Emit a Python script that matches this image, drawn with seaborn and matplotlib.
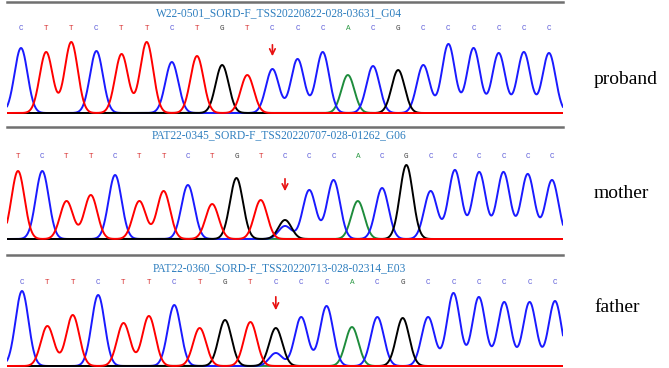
import numpy as np
import pandas as pd
import matplotlib
matplotlib.use("Agg")
import matplotlib.pyplot as plt
import seaborn as sns

# sequencing traces (peak heights in px above baseline)
proband_title = "W22-0501_SORD-F_TSS20220822-028-03631_G04"
proband_bases = list("CTTCTTCTGTCCCACGCCCCCC")
proband_heights = [65, 61, 71, 62, 59, 71, 51, 57, 48, 38, 44, 54, 61, 38, 47, 43, 48, 69, 65, 60, 61, 60]
proband_alt_pos = []
proband_alt_base = []
proband_alt_height = []
proband_arrow = 10

mother_title = "PAT22-0345_SORD-F_TSS20220707-028-01262_G06"
mother_bases = list("TCTTCTTCTGTCCCACGCCCCCC")
mother_heights = [68, 68, 38, 44, 64, 38, 48, 54, 35, 61, 39, 13, 49, 59, 38, 51, 74, 48, 69, 67, 67, 65, 59]
mother_alt_pos = [11]
mother_alt_base = ["G"]
mother_alt_height = [19]
mother_arrow = 11

father_title = "PAT22-0360_SORD-F_TSS20220713-028-02314_E03"
father_bases = list("CTTCTTCTGTCCCACGCCCCCC")
father_heights = [75, 40, 51, 71, 43, 50, 61, 38, 46, 44, 13, 49, 60, 39, 49, 48, 49, 73, 69, 64, 64, 65]
father_alt_pos = [10]
father_alt_base = ["G"]
father_alt_height = [38]
father_arrow = 10

labels = ["proband", "mother", "father"]

trace_colors = {"A": "#1e8c3c", "C": "#1a1aff", "G": "#000000", "T": "#ff0000"}
letter_colors = {"A": "#2e9a46", "C": "#5a5ad8", "G": "#444444", "T": "#d83030"}

sns.set_style("white")

W, H = 669, 368
fig = plt.figure(figsize=(W / 100, H / 100), dpi=100)

# (top px, baseline px, first base px, last base px, title h, letters h, arrow top, arrow head, label y)
layout = [
    (1.5, 113, 21, 549, 100, 84, 71, 54, 79),
    (127, 239, 18, 552, 104, 83, 63, 45, 194),
    (255, 366, 22, 555, 98, 83, 72, 53, 308),
]
panels = [
    (proband_title, proband_bases, proband_heights, proband_alt_pos, proband_alt_base, proband_alt_height, proband_arrow),
    (mother_title, mother_bases, mother_heights, mother_alt_pos, mother_alt_base, mother_alt_height, mother_arrow),
    (father_title, father_bases, father_heights, father_alt_pos, father_alt_base, father_alt_height, father_arrow),
]

left_px, right_px = 7, 563

for (top, base, p0, p1, th, lh, a_top, a_head, lab_y), panel, label in zip(layout, panels, labels):
    title, bases, heights, alt_pos, alt_base, alt_height, arrow_i = panel
    n = len(bases)
    step = (p1 - p0) / (n - 1)
    x0 = (left_px - p0) / step
    x1 = (right_px - p0) / step
    bottom = min(base + 3, H)

    ax = fig.add_axes([left_px / W, 1 - bottom / H, (right_px - left_px) / W, (bottom - top) / H])

    xs = np.linspace(x0, x1, 1600)
    sigma = 6.5 / step
    rows = []
    for ch in ["A", "C", "G", "T"]:
        sig = np.zeros_like(xs)
        for i, (b, h) in enumerate(zip(bases, heights)):
            if b == ch:
                sig += h * np.exp(-((xs - i) ** 2) / (2 * sigma ** 2))
        for i, b, h in zip(alt_pos, alt_base, alt_height):
            if b == ch:
                sig += h * np.exp(-((xs - i) ** 2) / (2 * sigma ** 2))
        rows.append(pd.DataFrame({"x": xs, "signal": sig, "channel": ch}))
    df = pd.concat(rows, ignore_index=True)

    sns.lineplot(data=df, x="x", y="signal", hue="channel", hue_order=["A", "C", "G", "T"],
                 palette=trace_colors, estimator=None, sort=False, legend=False,
                 linewidth=1.4, ax=ax)

    for i, b in enumerate(bases):
        ax.text(i, lh, b, ha="center", va="center", fontsize=5.5,
                family="Liberation Mono", color=letter_colors[b])

    ax.text(0.49, th, title, transform=ax.get_yaxis_transform(), ha="center", va="center",
            fontsize=8.3, family="Liberation Serif", color="#2f7fbf")

    ax.annotate("", xy=(arrow_i, a_head), xytext=(arrow_i, a_top),
                arrowprops=dict(arrowstyle="->", color="#e81010", lw=1.2))

    ax.set_xlim(x0, x1)
    ax.set_ylim(-(bottom - base), base - top)
    ax.set_xlabel("")
    ax.set_ylabel("")
    ax.set_xticks([])
    ax.set_yticks([])
    for s in ["left", "right", "bottom"]:
        ax.spines[s].set_visible(False)
    ax.spines["top"].set_color("#707070")
    ax.spines["top"].set_linewidth(1.8)

    fig.text(594 / W, 1 - lab_y / H, label, ha="left", va="center", fontsize=14,
             family="Liberation Serif", color="black")

fig.savefig("out.png", dpi=100)
